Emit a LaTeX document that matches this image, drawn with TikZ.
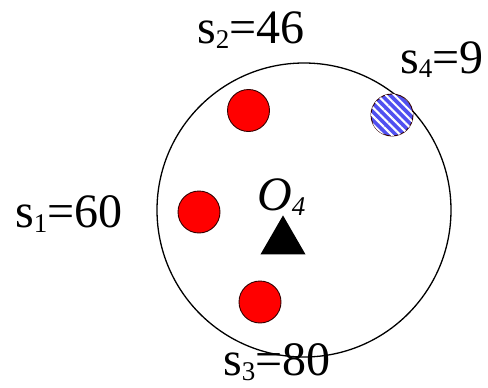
\documentclass[tikz,border=0pt]{standalone}
\usepackage{fontspec}
\setmainfont{Liberation Serif}
\usepackage{tikz}
\usetikzlibrary{positioning,shapes.geometric,patterns.meta}
\definecolor{ballRed}{RGB}{255,0,0}
\definecolor{ballBlue}{RGB}{80,80,240}
\newcommand{\lowsub}[1]{\raisebox{-5pt}{\fontsize{27}{28}\selectfont #1}}

\begin{document}
\begin{tikzpicture}[x=1pt, y=-1pt,
    every node/.style={font=\fontsize{48}{50}\selectfont, inner sep=0pt},
    ball/.style={circle, draw=black!80!red, line width=0.9pt, minimum size=42pt},
    redball/.style={ball, fill=ballRed},
    blueball/.style={ball, fill=ballBlue,
      postaction={pattern={Lines[angle=-45, distance=6pt, line width=2pt]}, pattern color=white}},
    ring/.style={circle, draw, line width=1.3pt, minimum size=294pt},
    sitelabel/.style={anchor=base west}]
    \useasboundingbox (0,0) rectangle (488,388);
    % the big ring round the centre O_4
    \node[ring] (ring) at (304,210) {};
    % the four sites: three red, one hatched blue
    \node[redball] (b2) at (248.5,110.5) {};
    \node[redball] (b1) at (199,212) {};
    \node[redball] (b3) at (260,302) {};
    \node[blueball] (b4) at (392,115) {};
    % centre marker
    \node[regular polygon, regular polygon sides=3, fill=black, minimum size=52pt,
      anchor=corner 1] (centre) at (283,215) {};
    \node[sitelabel] (olabel) at (257,210) {\textit{O}\lowsub{\textit{4}}};
    % site labels
    \node[sitelabel] (s2) at (197,43) {s\lowsub{2}=46};
    \node[sitelabel] (s4) at (400,73) {s\lowsub{4}=9};
    \node[sitelabel] (s1) at (15,227) {s\lowsub{1}=60};
    \node[sitelabel] (s3) at (223,375) {s\lowsub{3}=80};
\end{tikzpicture}
\end{document}
